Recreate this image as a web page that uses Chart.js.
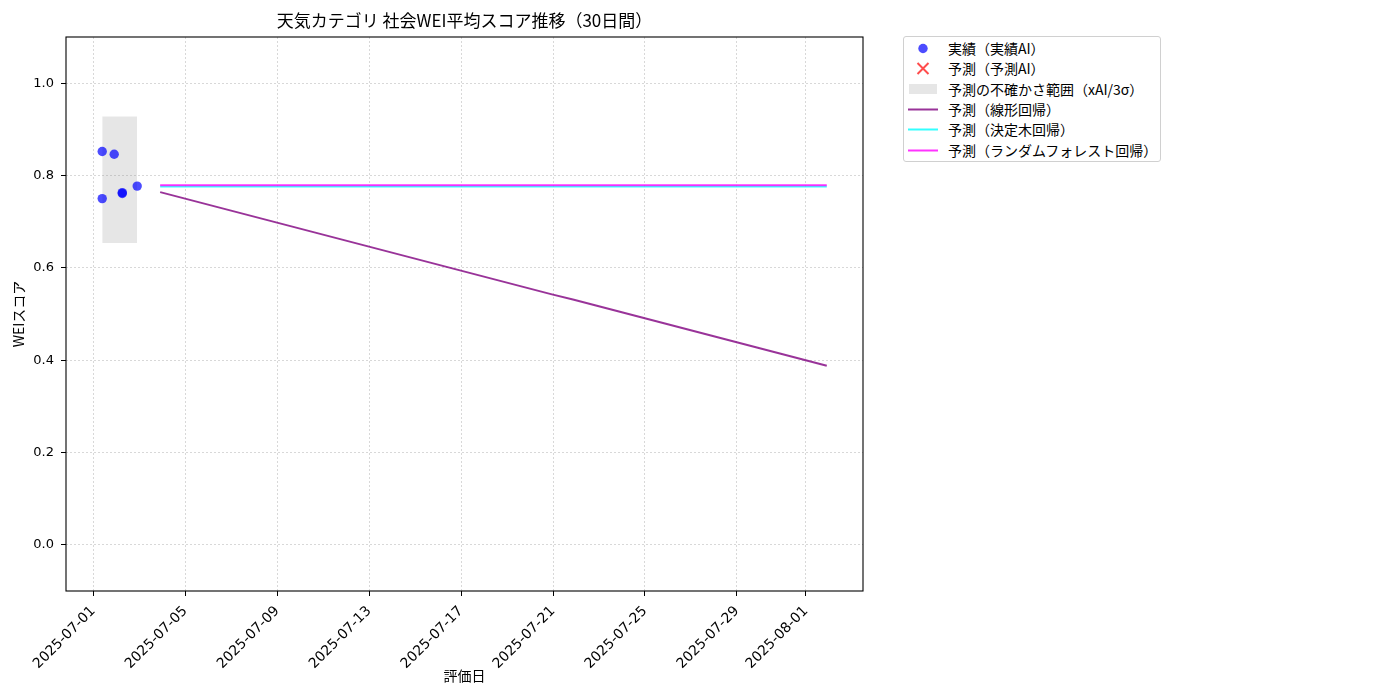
<!DOCTYPE html>
<html>
<head>
<meta charset="utf-8">
<script src="https://cdn.jsdelivr.net/npm/chart.js@4.4.1/dist/chart.umd.min.js"></script>
<style>
  html, body { margin: 0; padding: 0; background: #fff; }
  #wrap { position: relative; width: 1400px; height: 700px; }
  #c { position: absolute; left: 0; top: 0; }
  #legend {
    position: absolute; left: 903px; top: 36px; width: 256px; height: 124px;
    border: 1px solid #d0d0d0; border-radius: 3px; background: #fff;
    font-family: "Noto Sans CJK JP", "Noto Sans", sans-serif; font-size: 14px; color: #000;
  }
  .row { position: absolute; left: 0; height: 20px; line-height: 20px; white-space: nowrap; }
  .row svg { position: absolute; left: 4px; top: 0; }
  .row span { position: absolute; left: 44px; top: 0; }
</style>
</head>
<body>
<div id="wrap">
  <canvas id="c" width="1400" height="700"></canvas>
  <div id="legend"></div>
</div>
<script>
// ---------------- data ----------------
const chartTitle = '天気カテゴリ 社会WEI平均スコア推移（30日間）';
const xAxisTitle = '評価日';
const yAxisTitle = 'WEIスコア';

const actualDates  = ['2025-07-01 09:20', '2025-07-01 09:20', '2025-07-01 21:50', '2025-07-02 06:15', '2025-07-02 06:15', '2025-07-02 21:50'];
const actualScores = [0.852, 0.750, 0.846, 0.763, 0.761, 0.777];

const predAIDates  = [];
const predAIScores = [];

const bandDates = ['2025-07-01 09:20', '2025-07-02 21:50'];
const bandLower = [0.654, 0.654];
const bandUpper = [0.928, 0.928];

const forecastDates = [
  '2025-07-03 21:50','2025-07-04 21:50','2025-07-05 21:50','2025-07-06 21:50','2025-07-07 21:50',
  '2025-07-08 21:50','2025-07-09 21:50','2025-07-10 21:50','2025-07-11 21:50','2025-07-12 21:50',
  '2025-07-13 21:50','2025-07-14 21:50','2025-07-15 21:50','2025-07-16 21:50','2025-07-17 21:50',
  '2025-07-18 21:50','2025-07-19 21:50','2025-07-20 21:50','2025-07-21 21:50','2025-07-22 21:50',
  '2025-07-23 21:50','2025-07-24 21:50','2025-07-25 21:50','2025-07-26 21:50','2025-07-27 21:50',
  '2025-07-28 21:50','2025-07-29 21:50','2025-07-30 21:50','2025-07-31 21:50','2025-08-01 21:50'
];
const linearPred = [
  0.764, 0.751, 0.738, 0.725, 0.712, 0.699, 0.686, 0.673, 0.660, 0.647,
  0.634, 0.621, 0.608, 0.595, 0.582, 0.569, 0.556, 0.543, 0.531, 0.518,
  0.505, 0.492, 0.479, 0.466, 0.453, 0.440, 0.427, 0.414, 0.401, 0.388
];
const treePred = [
  0.776, 0.776, 0.776, 0.776, 0.776, 0.776, 0.776, 0.776, 0.776, 0.776,
  0.776, 0.776, 0.776, 0.776, 0.776, 0.776, 0.776, 0.776, 0.776, 0.776,
  0.776, 0.776, 0.776, 0.776, 0.776, 0.776, 0.776, 0.776, 0.776, 0.776
];
const forestPred = [
  0.779, 0.779, 0.779, 0.779, 0.779, 0.779, 0.779, 0.779, 0.779, 0.779,
  0.779, 0.779, 0.779, 0.779, 0.779, 0.779, 0.779, 0.779, 0.779, 0.779,
  0.779, 0.779, 0.779, 0.779, 0.779, 0.779, 0.779, 0.779, 0.779, 0.779
];

const xTickLabels = ['2025-07-01','2025-07-05','2025-07-09','2025-07-13','2025-07-17','2025-07-21','2025-07-25','2025-07-29','2025-08-01'];
const yTickValues = [0.0, 0.2, 0.4, 0.6, 0.8, 1.0];
const yMin = -0.1, yMax = 1.1;

const legendLabels = ['実績（実績AI）', '予測（予測AI）', '予測の不確かさ範囲（xAI/3σ）', '予測（線形回帰）', '予測（決定木回帰）', '予測（ランダムフォレスト回帰）'];

// ---------------- helpers ----------------
const BASE = Date.UTC(2025, 6, 1);
function dayNum(s) {
  const parts = s.split(' ');
  const [Y, M, D] = parts[0].split('-').map(Number);
  const [h, m] = (parts[1] || '00:00').split(':').map(Number);
  return (Date.UTC(Y, M - 1, D, h, m) - BASE) / 86400000;
}
function pts(dates, vals) { return dates.map((d, i) => ({ x: dayNum(d), y: vals[i] })); }

const allX = [].concat(actualDates, bandDates, forecastDates).map(dayNum);
const dMin = Math.min(...allX), dMax = Math.max(...allX);
const xMargin = (dMax - dMin) * 0.05;
const xTickPos = xTickLabels.map(dayNum);

const FONT = '"Noto Sans CJK JP", "Noto Sans", sans-serif';
const TICKFONT = '"DejaVu Sans", sans-serif';

const framePlugin = {
  id: 'frame',
  afterDraw(chart) {
    const { ctx, chartArea: a } = chart;
    ctx.save();
    ctx.strokeStyle = '#000';
    ctx.lineWidth = 1.1;
    ctx.strokeRect(a.left, a.top, a.right - a.left, a.bottom - a.top);
    ctx.fillStyle = '#000';
    ctx.textAlign = 'center';
    ctx.textBaseline = 'middle';
    ctx.font = '17px ' + FONT;
    ctx.fillText(chartTitle, (a.left + a.right) / 2, 21);
    ctx.font = '14px ' + FONT;
    ctx.fillText(xAxisTitle, (a.left + a.right) / 2, 676);
    ctx.translate(19, (a.top + a.bottom) / 2);
    ctx.rotate(-Math.PI / 2);
    ctx.fillText(yAxisTitle, 0, 0);
    ctx.restore();
  }
};

new Chart(document.getElementById('c'), {
  type: 'scatter',
  data: {
    datasets: [
      { label: legendLabels[0], data: pts(actualDates, actualScores), backgroundColor: 'rgba(0,0,255,0.7)', borderWidth: 0, pointRadius: 4.7, order: 0 },
      { label: legendLabels[1], data: pts(predAIDates, predAIScores), pointStyle: 'crossRot', borderColor: 'rgba(255,0,0,0.7)', pointRadius: 6, order: 0 },
      { label: 'upper', type: 'line', data: pts(bandDates, bandUpper), borderWidth: 0, pointRadius: 0, backgroundColor: 'rgba(128,128,128,0.2)', fill: '+1', order: 9 },
      { label: legendLabels[2], type: 'line', data: pts(bandDates, bandLower), borderWidth: 0, pointRadius: 0, fill: false, order: 10 },
      { label: legendLabels[3], type: 'line', data: pts(forecastDates, linearPred), borderColor: 'rgba(128,0,128,0.8)', borderWidth: 2, pointRadius: 0, fill: false, order: 5 },
      { label: legendLabels[4], type: 'line', data: pts(forecastDates, treePred), borderColor: 'rgba(0,255,255,0.8)', borderWidth: 2, pointRadius: 0, fill: false, order: 4 },
      { label: legendLabels[5], type: 'line', data: pts(forecastDates, forestPred), borderColor: 'rgba(255,0,255,0.8)', borderWidth: 2, pointRadius: 0, fill: false, order: 3 }
    ]
  },
  options: {
    responsive: false,
    animation: false,
    devicePixelRatio: 1,
    layout: { padding: { left: 0, top: 37, right: 537, bottom: 0 } },
    plugins: { legend: { display: false }, title: { display: false }, tooltip: { enabled: false } },
    events: [],
    scales: {
      x: {
        type: 'linear',
        min: dMin - xMargin,
        max: dMax + xMargin,
        afterFit(s) { s.height = 109; },
        afterBuildTicks(s) { s.ticks = xTickPos.map(v => ({ value: v })); },
        ticks: {
          autoSkip: false, minRotation: 45, maxRotation: 45, padding: 7,
          color: '#000', font: { family: TICKFONT, size: 14 },
          callback(v) { const i = xTickPos.findIndex(p => Math.abs(p - v) < 1e-6); return i >= 0 ? xTickLabels[i] : ''; }
        },
        grid: { color: '#cfcfcf', lineWidth: 0.8, tickLength: 5, tickColor: '#000', tickWidth: 1 },
        border: { display: false, dash: [2, 2] }
      },
      y: {
        type: 'linear',
        min: yMin,
        max: yMax,
        afterFit(s) { s.width = 66; },
        afterBuildTicks(s) { s.ticks = yTickValues.map(v => ({ value: v })); },
        ticks: { padding: 7, color: '#000', font: { family: TICKFONT, size: 13 }, callback(v) { return Number(v).toFixed(1); } },
        grid: { color: '#cfcfcf', lineWidth: 0.8, tickLength: 5, tickColor: '#000', tickWidth: 1 },
        border: { display: false, dash: [2, 2] }
      }
    }
  },
  plugins: [framePlugin]
});

// ---------------- legend (HTML) ----------------
const icons = [
  '<svg width="32" height="20"><circle cx="15" cy="10.5" r="4.7" fill="rgba(0,0,255,0.7)"/></svg>',
  '<svg width="32" height="20"><path d="M9.5 5 L20.5 16 M20.5 5 L9.5 16" stroke="rgba(255,0,0,0.7)" stroke-width="2"/></svg>',
  '<svg width="32" height="20"><rect x="1" y="5" width="28" height="10" fill="rgba(128,128,128,0.2)"/></svg>',
  '<svg width="32" height="20"><line x1="0" y1="10.5" x2="30" y2="10.5" stroke="rgba(128,0,128,0.8)" stroke-width="2"/></svg>',
  '<svg width="32" height="20"><line x1="0" y1="10.5" x2="30" y2="10.5" stroke="rgba(0,255,255,0.8)" stroke-width="2"/></svg>',
  '<svg width="32" height="20"><line x1="0" y1="10.5" x2="30" y2="10.5" stroke="rgba(255,0,255,0.8)" stroke-width="2"/></svg>'
];
const lg = document.getElementById('legend');
legendLabels.forEach((t, i) => {
  const r = document.createElement('div');
  r.className = 'row';
  r.style.top = (1 + i * 20.3) + 'px';
  r.style.width = '100%';
  r.innerHTML = icons[i] + '<span></span>';
  r.querySelector('span').textContent = t;
  lg.appendChild(r);
});
</script>
</body>
</html>
